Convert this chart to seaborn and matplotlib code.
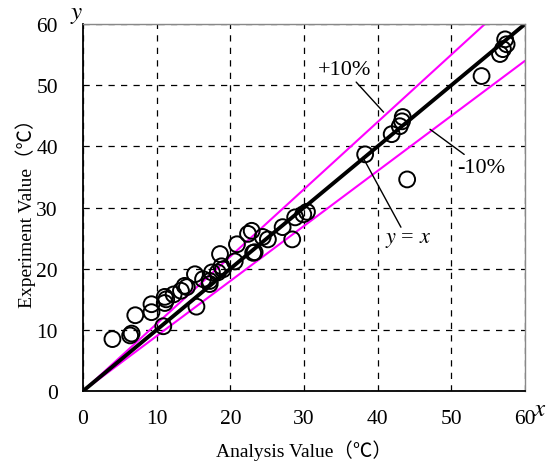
import matplotlib
matplotlib.use("Agg")
import matplotlib.pyplot as plt
import seaborn as sns
import pandas as pd
import numpy as np

# Data
analysis = [4.0, 6.4, 6.6, 7.1, 9.3, 9.3, 10.9, 11.1, 11.1, 11.3, 12.3, 13.3, 13.8, 14.1,
            15.2, 15.4, 16.3, 17.2, 17.2, 17.5, 18.3, 18.6, 18.8, 19.0, 20.6, 20.9,
            22.4, 22.9, 23.1, 23.3, 24.4, 25.1, 27.1, 28.4, 28.8, 29.9, 30.4,
            38.3, 41.9, 43.0, 43.3, 43.4, 44.0, 54.1, 56.6, 57.0, 57.5, 57.3]
experiment = [8.5, 9.1, 9.4, 12.4, 12.9, 14.2, 10.6, 15.4, 14.4, 15.0, 15.8, 16.4, 17.2, 17.0,
              19.1, 13.8, 18.3, 18.0, 17.5, 19.4, 19.4, 22.4, 20.4, 19.9, 21.2, 24.0,
              25.7, 26.2, 22.6, 22.7, 25.2, 24.8, 26.8, 24.8, 28.4, 28.9, 29.3,
              38.7, 42.0, 43.3, 44.1, 44.8, 34.6, 51.5, 55.1, 55.9, 56.7, 57.5]
ratios = [1.0, 1.1, 0.9]
line_names = ["y = x", "+10%", "-10%"]
ticks = [0, 10, 20, 30, 40, 50, 60]

sns.set_theme(style="white")
plt.rcParams['font.family'] = ['Liberation Serif', 'Noto Sans CJK JP', 'DejaVu Serif']
plt.rcParams['mathtext.fontset'] = 'stix'
plt.rcParams['text.color'] = 'black'
plt.rcParams['axes.labelcolor'] = 'black'
plt.rcParams['xtick.color'] = 'black'
plt.rcParams['ytick.color'] = 'black'

fig = plt.figure(figsize=(5.55, 4.64), dpi=100)
ax = fig.add_axes([0.1495, 0.155, 0.7965, 0.791])

ax.set_xlim(0, 60)
ax.set_ylim(0, 60)
ax.set_xticks(ticks)
ax.set_yticks(ticks)
ax.grid(True, color='black', linestyle=(0, (5, 5)), linewidth=0.9)
ax.set_axisbelow(True)

# reference lines
rows = []
for r, n in zip(ratios, line_names):
    xmax = min(60, 60 / r)
    for xv in (0, xmax):
        rows.append({"x": xv, "y": r * xv, "line": n})
ldf = pd.DataFrame(rows)
sns.lineplot(data=ldf[ldf.line != "y = x"], x="x", y="y", units="line", estimator=None,
             color='#ff00ff', linewidth=1.5, ax=ax, legend=False)
sns.lineplot(data=ldf[ldf.line == "y = x"], x="x", y="y", estimator=None,
             color='black', linewidth=2.8, ax=ax, legend=False)

df = pd.DataFrame({"Analysis": analysis, "Experiment": experiment})
sns.scatterplot(data=df, x="Analysis", y="Experiment", marker='o', s=130,
                facecolors='none', edgecolor='black', linewidth=1.4, ax=ax, zorder=5)

ax.set_xlabel("Analysis Value（℃）", fontsize=14, labelpad=8)
ax.set_ylabel("Experiment Value（℃）", fontsize=14, labelpad=0)
ax.tick_params(axis='both', direction='in', length=6, width=1, colors='black',
               labelsize=15.5)
ax.tick_params(axis='x', pad=13)
ax.tick_params(axis='y', pad=18)

for side in ['left', 'bottom']:
    ax.spines[side].set_color('black')
    ax.spines[side].set_linewidth(1.3)
for side in ['top', 'right']:
    ax.spines[side].set_color('#888888')
    ax.spines[side].set_linewidth(1.0)

ann = dict(arrowstyle='-', color='black', linewidth=1.0, shrinkA=0, shrinkB=0)
ax.annotate("+10%", xy=(40.8, 45.6), xytext=(35.5, 52.6), fontsize=16,
            ha='center', va='center', arrowprops=ann)
ax.annotate("-10%", xy=(47.1, 42.8), xytext=(54.1, 36.6), fontsize=16,
            ha='center', va='center', arrowprops=ann)
ax.annotate("$y$ = $x$", xy=(38.0, 38.2), xytext=(44.1, 24.7), fontsize=16,
            ha='center', va='center', arrowprops=ann)

fig.text(77 / 555, 1 - 15 / 464, "$y$", fontsize=18, ha='center', va='center')
fig.text(540 / 555, 1 - 410 / 464, "$x$", fontsize=18, ha='center', va='center')

fig.savefig("out.png", dpi=100)
